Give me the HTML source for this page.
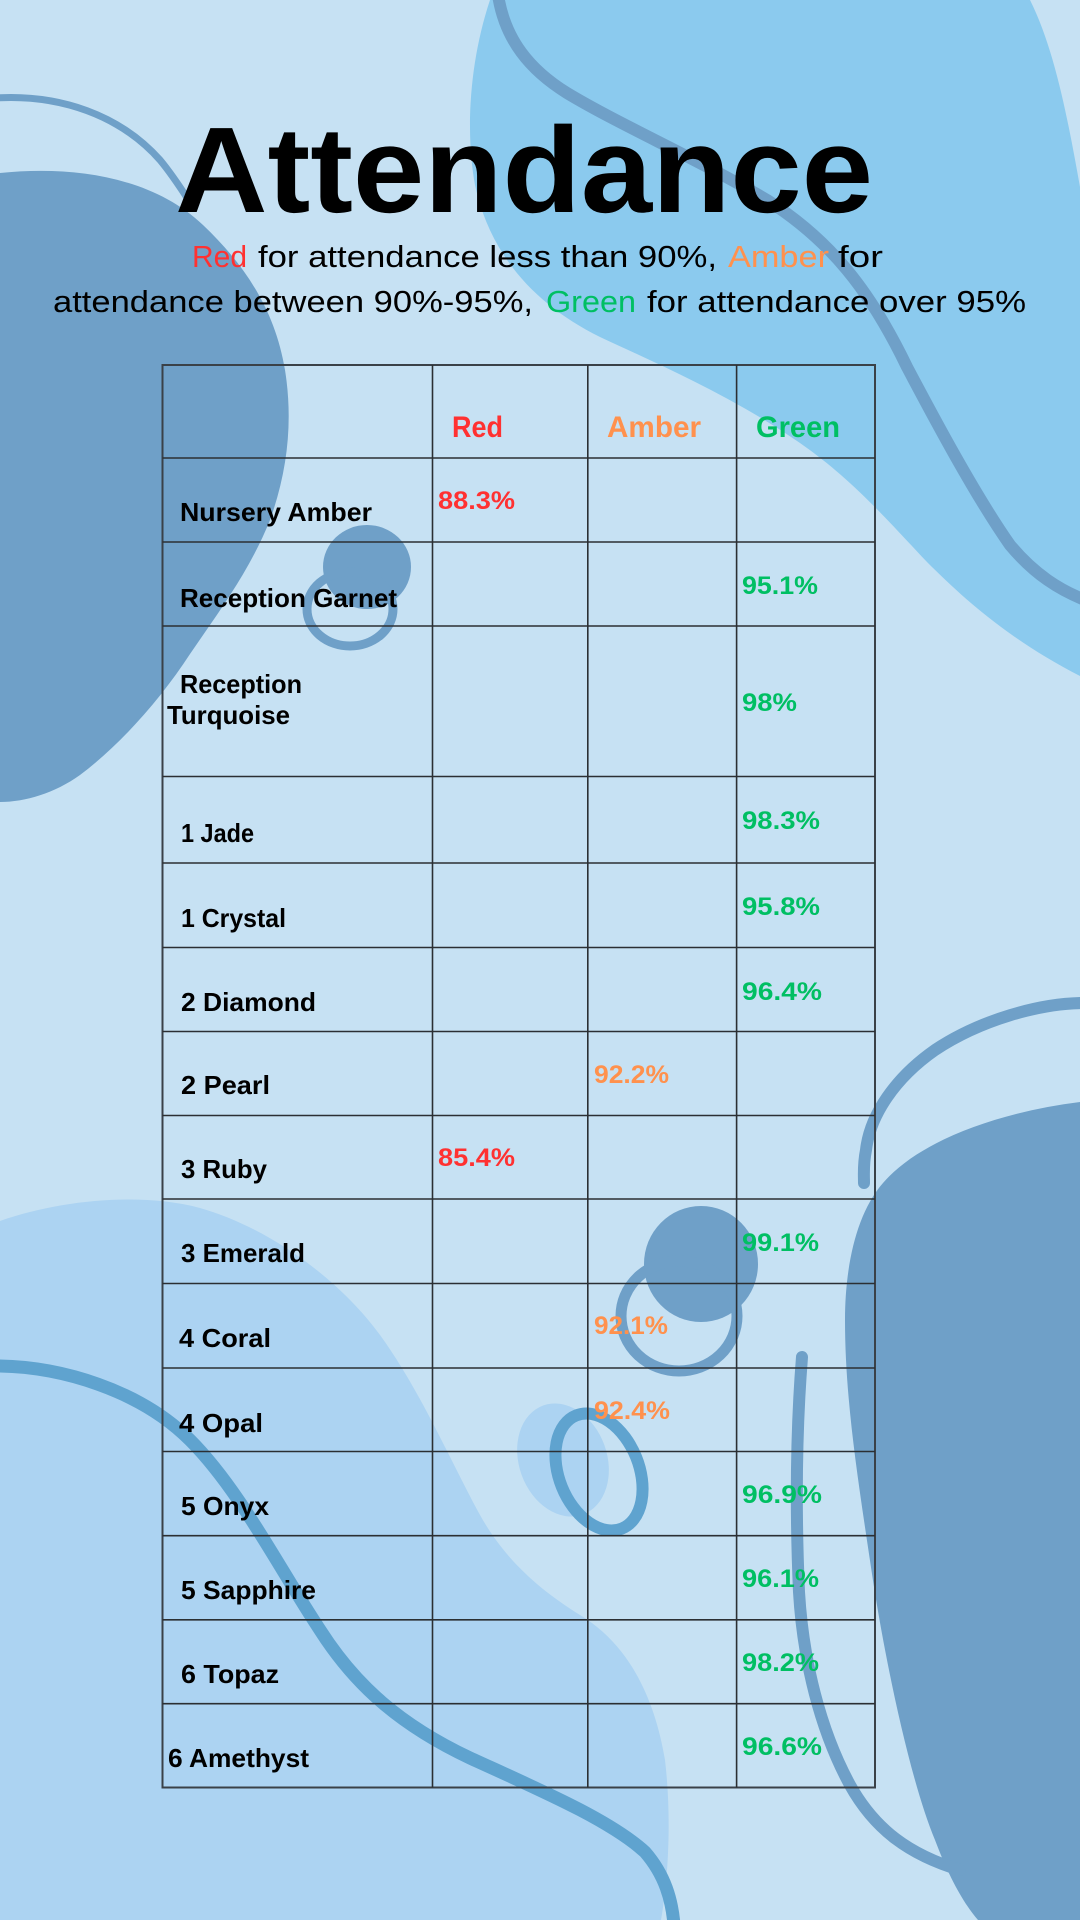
<!DOCTYPE html>
<html>
<head>
<meta charset="utf-8">
<style>
html,body{margin:0;padding:0;width:1080px;height:1920px;overflow:hidden;background:#c6e1f3;}
svg{display:block;}
text{font-family:"Liberation Sans",Arial,sans-serif;}
.lb{font-size:26px;font-weight:bold;fill:#000;}
.v{font-size:25px;font-weight:bold;}
.h{font-size:30px;font-weight:bold;}
.s{font-size:31px;fill:#000;}
</style>
</head>
<body>
<svg width="1080" height="1920" viewBox="0 0 1080 1920" xmlns="http://www.w3.org/2000/svg">
<rect x="0" y="0" width="1080" height="1920" fill="#c6e1f3"/>

<!-- top-right light blue blob -->
<path d="M490,0 C470,60 465,130 475,185 C490,255 535,305 600,337 C660,365 730,395 800,443 C850,478 880,512 927,562 C965,600 1010,640 1080,676 L1080,187 C1068,120 1055,50 1030,0 Z" fill="#8bcaee"/>
<!-- top dark stroke -->
<path d="M498,-5 C505,40 530,70 567,93 C620,125 700,160 767,200 C830,240 870,290 907,367 C935,420 975,495 1010,545 C1035,575 1060,590 1085,600" fill="none" stroke="#6fa0c8" stroke-width="12"/>

<!-- left dark blob -->
<path d="M0,173 C70,166 150,175 203,225 C245,265 275,310 285,370 C293,420 288,470 270,520 C250,570 220,610 190,654 C160,700 120,745 80,775 C55,793 25,802 0,802 Z" fill="#6fa0c8"/>
<!-- left thin stroke -->
<path d="M-5,98 C60,94 120,115 160,160 C175,178 185,195 195,210" fill="none" stroke="#6fa0c8" stroke-width="7"/>

<!-- garnet blob + ring -->
<ellipse cx="367" cy="567" rx="44" ry="42" fill="#6fa0c8"/>
<ellipse cx="350" cy="609" rx="43" ry="37" fill="none" stroke="#6fa0c8" stroke-width="9"/>

<!-- bottom-left light blob -->
<path d="M0,1221 C60,1200 140,1192 200,1208 C270,1228 340,1280 380,1335 C420,1390 450,1460 480,1515 C505,1560 540,1590 580,1615 C630,1645 655,1700 665,1760 C672,1820 668,1880 661,1920 L0,1920 Z" fill="#acd3f2"/>

<!-- small light blob + ring -->
<ellipse cx="563" cy="1460" rx="44" ry="58" transform="rotate(-20 563 1460)" fill="#acd3f2"/>
<ellipse cx="599" cy="1472" rx="40" ry="61" transform="rotate(-22 599 1472)" fill="none" stroke="#5fa3cf" stroke-width="12"/>

<!-- bottom-left stroke -->
<path d="M-5,1366 C60,1366 140,1390 190,1440 C240,1490 280,1570 320,1630 C355,1685 400,1725 470,1758 C540,1790 610,1820 645,1852 C665,1875 672,1900 674,1925" fill="none" stroke="#5fa3cf" stroke-width="13"/>

<!-- dark ellipse + ring near 99.1 -->
<ellipse cx="701" cy="1264" rx="57" ry="58" fill="#6fa0c8"/>
<ellipse cx="679" cy="1316" rx="58" ry="55" fill="none" stroke="#6fa0c8" stroke-width="11"/>

<!-- right dark blob -->
<path d="M1080,1102 C1000,1112 920,1140 883,1183 C855,1215 845,1270 845,1320 C845,1400 858,1480 872,1574 C885,1660 910,1780 935,1840 C950,1880 965,1905 978,1920 L1080,1920 Z" fill="#6fa0c8"/>
<!-- right arc stroke -->
<path d="M1085,1003 C1040,1003 980,1020 935,1050 C895,1078 870,1115 866,1150 C863,1165 864,1175 864,1183" fill="none" stroke="#6fa0c8" stroke-width="12" stroke-linecap="round"/>
<!-- right vertical stroke -->
<path d="M802,1357 C797,1420 795,1500 799,1592 C803,1660 820,1730 850,1785 C875,1830 910,1855 960,1870" fill="none" stroke="#6fa0c8" stroke-width="12" stroke-linecap="round"/>

<!-- title -->
<text x="175" y="212" font-size="122" font-weight="bold" fill="#000" textLength="698" lengthAdjust="spacingAndGlyphs">Attendance</text>

<!-- subtitle -->
<text class="s" x="192" y="267" fill="#ff3131" style="fill:#ff3131" textLength="55" lengthAdjust="spacingAndGlyphs">Red</text>
<text class="s" x="258" y="267" textLength="459" lengthAdjust="spacingAndGlyphs">for attendance less than 90%,</text>
<text class="s" x="728" y="267" style="fill:#ff914d" textLength="101" lengthAdjust="spacingAndGlyphs">Amber</text>
<text class="s" x="838" y="267" textLength="45" lengthAdjust="spacingAndGlyphs">for</text>
<text class="s" x="53" y="312" textLength="480" lengthAdjust="spacingAndGlyphs">attendance between 90%-95%,</text>
<text class="s" x="546" y="312" style="fill:#00bf63" textLength="90" lengthAdjust="spacingAndGlyphs">Green</text>
<text class="s" x="647" y="312" textLength="379" lengthAdjust="spacingAndGlyphs">for attendance over 95%</text>

<!-- table grid -->
<g stroke="#2b2f33" stroke-width="1.6" fill="none">
<rect x="162.5" y="365" width="712.5" height="1422.5" stroke="#3a4148" stroke-width="2"/>
<line x1="432.5" y1="365" x2="432.5" y2="1787.5"/>
<line x1="587.8" y1="365" x2="587.8" y2="1787.5"/>
<line x1="736.6" y1="365" x2="736.6" y2="1787.5"/>
<line x1="162.5" y1="458" x2="875" y2="458"/>
<line x1="162.5" y1="542" x2="875" y2="542"/>
<line x1="162.5" y1="626" x2="875" y2="626"/>
<line x1="162.5" y1="776.5" x2="875" y2="776.5"/>
<line x1="162.5" y1="863" x2="875" y2="863"/>
<line x1="162.5" y1="947.5" x2="875" y2="947.5"/>
<line x1="162.5" y1="1031.5" x2="875" y2="1031.5"/>
<line x1="162.5" y1="1115.5" x2="875" y2="1115.5"/>
<line x1="162.5" y1="1199" x2="875" y2="1199"/>
<line x1="162.5" y1="1283.5" x2="875" y2="1283.5"/>
<line x1="162.5" y1="1368" x2="875" y2="1368"/>
<line x1="162.5" y1="1451.5" x2="875" y2="1451.5"/>
<line x1="162.5" y1="1535.7" x2="875" y2="1535.7"/>
<line x1="162.5" y1="1619.8" x2="875" y2="1619.8"/>
<line x1="162.5" y1="1703.7" x2="875" y2="1703.7"/>
</g>

<!-- headers -->
<text class="h" x="452" y="437" style="fill:#ff3131" textLength="51" lengthAdjust="spacingAndGlyphs">Red</text>
<text class="h" x="607" y="437" style="fill:#ff914d" textLength="94" lengthAdjust="spacingAndGlyphs">Amber</text>
<text class="h" x="756" y="437" style="fill:#00bf63" textLength="84" lengthAdjust="spacingAndGlyphs">Green</text>

<!-- row labels -->
<text class="lb" x="180" y="521" textLength="192" lengthAdjust="spacingAndGlyphs">Nursery Amber</text>
<text class="lb" x="180" y="607" textLength="217" lengthAdjust="spacingAndGlyphs">Reception Garnet</text>
<text class="lb" x="180" y="693" textLength="122" lengthAdjust="spacingAndGlyphs">Reception</text>
<text class="lb" x="167" y="724" textLength="123" lengthAdjust="spacingAndGlyphs">Turquoise</text>
<text class="lb" x="181" y="842" textLength="73" lengthAdjust="spacingAndGlyphs">1 Jade</text>
<text class="lb" x="181" y="927" textLength="105" lengthAdjust="spacingAndGlyphs">1 Crystal</text>
<text class="lb" x="181" y="1011" textLength="135" lengthAdjust="spacingAndGlyphs">2 Diamond</text>
<text class="lb" x="181" y="1094" textLength="89" lengthAdjust="spacingAndGlyphs">2 Pearl</text>
<text class="lb" x="181" y="1178" textLength="86" lengthAdjust="spacingAndGlyphs">3 Ruby</text>
<text class="lb" x="181" y="1262" textLength="124" lengthAdjust="spacingAndGlyphs">3 Emerald</text>
<text class="lb" x="179" y="1347" textLength="92" lengthAdjust="spacingAndGlyphs">4 Coral</text>
<text class="lb" x="179" y="1432" textLength="84" lengthAdjust="spacingAndGlyphs">4 Opal</text>
<text class="lb" x="181" y="1515" textLength="88" lengthAdjust="spacingAndGlyphs">5 Onyx</text>
<text class="lb" x="181" y="1599" textLength="135" lengthAdjust="spacingAndGlyphs">5 Sapphire</text>
<text class="lb" x="181" y="1683" textLength="98" lengthAdjust="spacingAndGlyphs">6 Topaz</text>
<text class="lb" x="168" y="1767" textLength="141" lengthAdjust="spacingAndGlyphs">6 Amethyst</text>

<!-- values -->
<text class="v" x="438" y="509" style="fill:#ff3131" textLength="77" lengthAdjust="spacingAndGlyphs">88.3%</text>
<text class="v" x="742" y="594" style="fill:#00bf63" textLength="76" lengthAdjust="spacingAndGlyphs">95.1%</text>
<text class="v" x="742" y="711" style="fill:#00bf63" textLength="55" lengthAdjust="spacingAndGlyphs">98%</text>
<text class="v" x="742" y="829" style="fill:#00bf63" textLength="78" lengthAdjust="spacingAndGlyphs">98.3%</text>
<text class="v" x="742" y="915" style="fill:#00bf63" textLength="78" lengthAdjust="spacingAndGlyphs">95.8%</text>
<text class="v" x="742" y="1000" style="fill:#00bf63" textLength="80" lengthAdjust="spacingAndGlyphs">96.4%</text>
<text class="v" x="594" y="1083" style="fill:#ff914d" textLength="75" lengthAdjust="spacingAndGlyphs">92.2%</text>
<text class="v" x="438" y="1166" style="fill:#ff3131" textLength="77" lengthAdjust="spacingAndGlyphs">85.4%</text>
<text class="v" x="742" y="1251" style="fill:#00bf63" textLength="77" lengthAdjust="spacingAndGlyphs">99.1%</text>
<text class="v" x="594" y="1334" style="fill:#ff914d" textLength="74" lengthAdjust="spacingAndGlyphs">92.1%</text>
<text class="v" x="594" y="1419" style="fill:#ff914d" textLength="76" lengthAdjust="spacingAndGlyphs">92.4%</text>
<text class="v" x="742" y="1503" style="fill:#00bf63" textLength="80" lengthAdjust="spacingAndGlyphs">96.9%</text>
<text class="v" x="742" y="1587" style="fill:#00bf63" textLength="77" lengthAdjust="spacingAndGlyphs">96.1%</text>
<text class="v" x="742" y="1671" style="fill:#00bf63" textLength="77" lengthAdjust="spacingAndGlyphs">98.2%</text>
<text class="v" x="742" y="1755" style="fill:#00bf63" textLength="80" lengthAdjust="spacingAndGlyphs">96.6%</text>
</svg>
</body>
</html>
